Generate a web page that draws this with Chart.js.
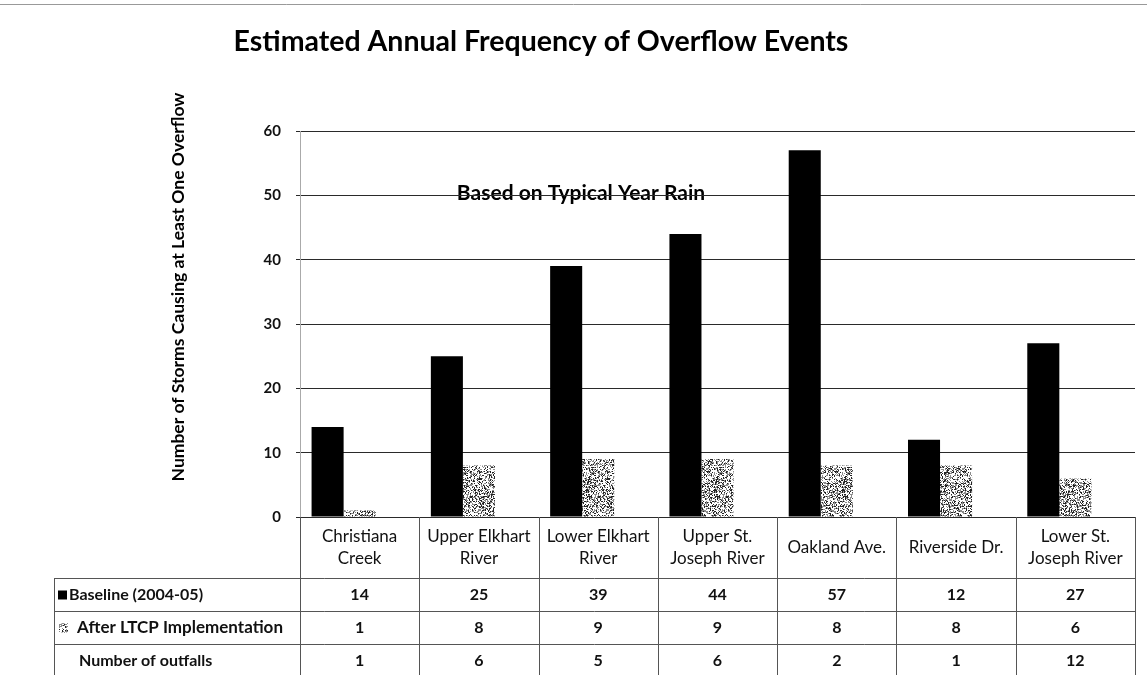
<!DOCTYPE html>
<html>
<head>
<meta charset="utf-8">
<script src="https://cdn.jsdelivr.net/npm/chart.js@4/dist/chart.umd.min.js"></script>
<style>
  html, body { margin: 0; padding: 0; background: #fff; }
  #wrap { width: 1147px; height: 675px; position: relative; }
</style>
</head>
<body>
<div id="wrap"><canvas id="overflowChart" width="1147" height="675"></canvas></div>
<script>
  // Chart data
  const categories = [
    ['Christiana', 'Creek'],
    ['Upper Elkhart', 'River'],
    ['Lower Elkhart', 'River'],
    ['Upper St.', 'Joseph River'],
    ['Oakland Ave.'],
    ['Riverside Dr.'],
    ['Lower St.', 'Joseph River']
  ];
  const baseline = [14, 25, 39, 44, 57, 12, 27];
  const afterLTCP = [1, 8, 9, 9, 8, 8, 6];
  const outfalls = [1, 6, 5, 6, 2, 1, 12];
  const seriesNames = ['Baseline (2004-05)', 'After LTCP Implementation', 'Number of outfalls'];
  const yTicks = [0, 10, 20, 30, 40, 50, 60];

  const FONT = 'Lato, "Open Sans", sans-serif';
  const ctx = document.getElementById('overflowChart').getContext('2d');

  // speckled grey fill, like the scanned original
  function speckle() {
    const c = document.createElement('canvas');
    c.width = c.height = 64;
    const g = c.getContext('2d');
    g.fillStyle = '#fff';
    g.fillRect(0, 0, 64, 64);
    let s = 12345;
    for (let y = 0; y < 64; y++) {
      for (let x = 0; x < 64; x++) {
        s = (s * 1103515245 + 12345) & 0x7fffffff;
        const r = (s >> 16) % 100;
        if (r < 22) g.fillStyle = '#222';
        else if (r < 50) g.fillStyle = '#8a8a8a';
        else continue;
        g.fillRect(x, y, 1, 1);
      }
    }
    return ctx.createPattern(c, 'repeat');
  }
  const greyFill = speckle();

  // title, axis title, note and the data table
  const extras = {
    id: 'extras',
    beforeDraw(chart) {
      const c = chart.ctx;
      c.save();
      // note sits under the 50 gridline
      c.fillStyle = '#000';
      c.font = 'bold 21px ' + FONT;
      c.textAlign = 'center';
      c.textBaseline = 'middle';
      c.fillText('Based on Typical Year Rain', 581, 193);
      c.restore();
    },
    afterDraw(chart) {
      const c = chart.ctx;
      const x = chart.scales.x;
      const area = chart.chartArea;
      const colW = x.width / categories.length;
      c.save();

      // scan edge at top
      c.strokeStyle = '#999';
      c.lineWidth = 1;
      c.beginPath();
      c.moveTo(0, 4.5);
      c.lineTo(1147, 4.5);
      c.stroke();

      // title
      c.fillStyle = '#000';
      c.font = 'bold 28.5px ' + FONT;
      c.textAlign = 'center';
      c.textBaseline = 'middle';
      c.fillText('Estimated Annual Frequency of Overflow Events', 541, 42);

      // y title
      c.save();
      c.translate(178, 287);
      c.rotate(-Math.PI / 2);
      c.font = 'bold 17.5px ' + FONT;
      c.fillText('Number of Storms Causing at Least One Overflow', 0, 0);
      c.restore();

      // table grid
      const top = area.bottom;
      const rowY = [top, top + 61, top + 94, top + 127, top + 160];
      const leftEdge = 54;
      c.strokeStyle = '#555';
      c.lineWidth = 1;
      c.beginPath();
      for (let i = 1; i < rowY.length - 1; i++) {
        c.moveTo(leftEdge, rowY[i] + 0.5);
        c.lineTo(area.right, rowY[i] + 0.5);
      }
      for (let i = 0; i <= categories.length; i++) {
        const px = Math.round(area.left + i * colW) + 0.5;
        c.moveTo(px, rowY[0]);
        c.lineTo(px, rowY[4]);
      }
      c.moveTo(leftEdge + 0.5, rowY[1]);
      c.lineTo(leftEdge + 0.5, rowY[4]);
      c.stroke();

      // header labels
      c.fillStyle = '#111';
      c.font = '17px ' + FONT;
      categories.forEach((lines, i) => {
        const cx = x.getPixelForValue(i);
        const mid = (rowY[0] + rowY[1]) / 2;
        lines.forEach((t, k) => {
          c.fillText(t, cx, mid + (k - (lines.length - 1) / 2) * 22);
        });
      });

      // values
      const rows = [baseline, afterLTCP, outfalls];
      c.font = 'bold 16px ' + FONT;
      rows.forEach((vals, r) => {
        const cy = (rowY[r + 1] + rowY[r + 2]) / 2;
        vals.forEach((v, i) => c.fillText(String(v), x.getPixelForValue(i), cy));
      });

      // row labels with legend keys
      c.textAlign = 'left';
      rows.forEach((vals, r) => {
        const cy = (rowY[r + 1] + rowY[r + 2]) / 2;
        c.font = (r === 1 ? 'bold 17px ' : 'bold 16px ') + FONT;
        if (r === 0) {
          c.fillStyle = '#000';
          c.fillRect(58, cy - 4, 9, 9);
          c.fillStyle = '#111';
          c.fillText(seriesNames[r], 69, cy);
        } else if (r === 1) {
          c.fillStyle = greyFill;
          c.fillRect(59, cy - 4, 9, 9);
          c.fillStyle = '#111';
          c.fillText(seriesNames[r], 77, cy);
        } else {
          c.fillStyle = '#111';
          c.fillText(seriesNames[r], 79, cy);
        }
      });
      c.restore();
    }
  };

  new Chart(ctx, {
    type: 'bar',
    data: {
      labels: categories,
      datasets: [
        { label: seriesNames[0], data: baseline, backgroundColor: '#000' },
        { label: seriesNames[1], data: afterLTCP, backgroundColor: greyFill },
        { label: seriesNames[2], data: outfalls, backgroundColor: 'rgba(0,0,0,0)' }
      ]
    },
    options: {
      responsive: false,
      animation: false,
      layout: { padding: { top: 131, right: 12, left: 0, bottom: 0 } },
      categoryPercentage: 0.806,
      barPercentage: 1,
      plugins: {
        legend: { display: false },
        tooltip: { enabled: false }
      },
      scales: {
        x: {
          grid: { display: false },
          border: { display: false },
          ticks: { display: false },
          afterFit(scale) { scale.height = 158; }
        },
        y: {
          min: 0,
          max: 60,
          afterBuildTicks(scale) { scale.ticks = yTicks.map(v => ({ value: v })); },
          afterFit(scale) {
            scale.width = 300;
            scale.paddingTop = 0;
            scale.paddingBottom = 0;
          },
          grid: { color: '#2a2a2a', lineWidth: 1, tickLength: 4 },
          border: { display: true, color: '#aaa' },
          ticks: {
            padding: 15,
            color: '#111',
            font: { family: FONT, size: 15, weight: 'bold' }
          }
        }
      }
    },
    plugins: [extras]
  });
</script>
</body>
</html>
